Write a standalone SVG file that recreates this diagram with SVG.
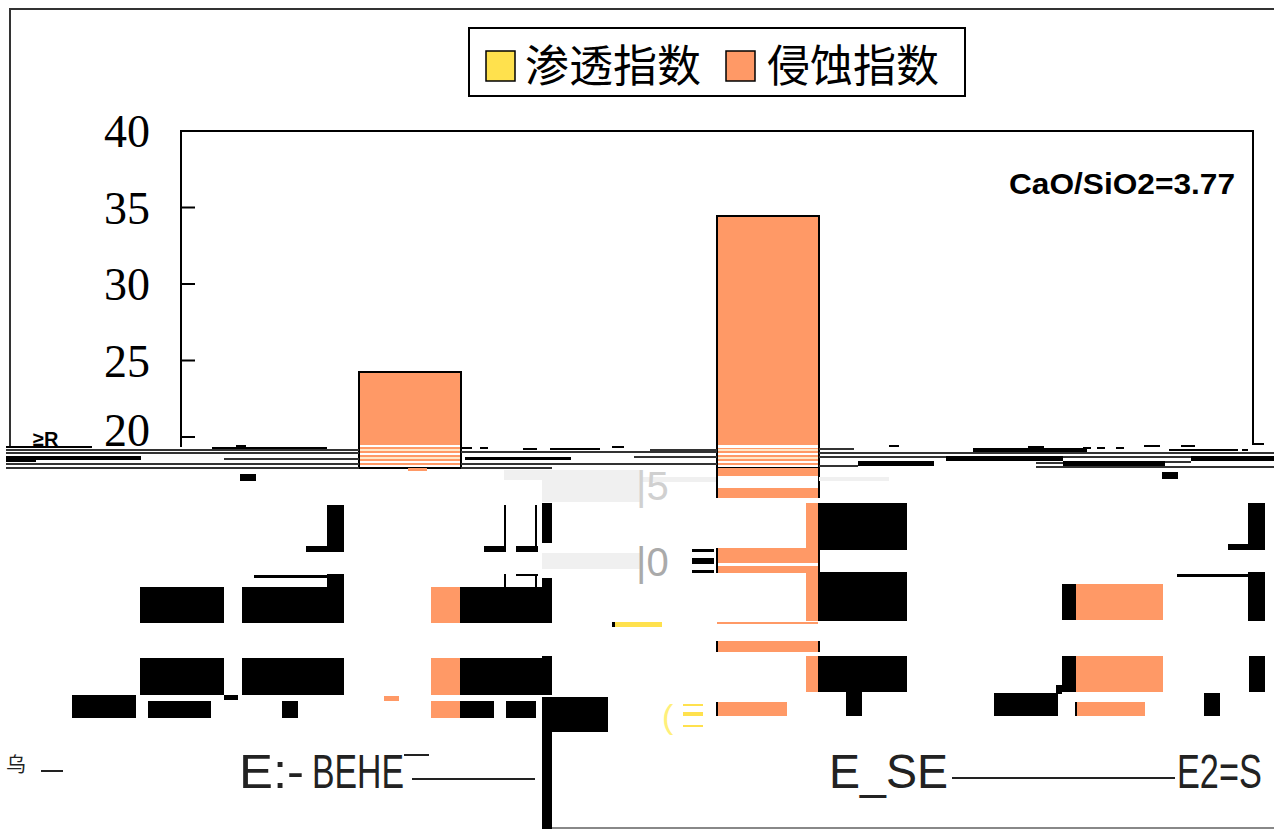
<svg xmlns="http://www.w3.org/2000/svg" width="1274" height="829" viewBox="0 0 1274 829">
<style>
.ln{stroke:#000;stroke-width:2;fill:none}
.gl{stroke:#333;stroke-width:2;fill:none}
.tk{font-family:"Liberation Serif",serif;font-size:46px;fill:#000}
.lg{font-family:"Noto Sans CJK SC","Noto Sans CJK JP",sans-serif;font-size:44px;fill:#000}
.an{font-family:"Liberation Sans",Arial,sans-serif;font-size:30px;font-weight:bold;fill:#000}
.gb{font-family:"Liberation Sans",Arial,sans-serif;font-size:49px;fill:#222}
.or{fill:#FF9966}
.ob{fill:#FF9966;stroke:#000;stroke-width:2}
.bk{fill:#000}
.gy{fill:#f0f0f0}
.wh{fill:#fff}
.pw{fill:#FFE8C8}
.ye{fill:#FFE14D}
</style>
<rect width="1274" height="829" fill="#fff"/>

<g id="frame">
<path class="gl" d="M10,447 V9 H1274"/>
</g>

<g id="legend">
<rect x="469" y="28" width="496" height="68" fill="#fff" stroke="#000" stroke-width="2"/>
<rect x="486" y="51" width="29" height="30" class="ye" stroke="#000" stroke-width="1.5"/>
<text class="lg" x="525" y="82" textLength="176" lengthAdjust="spacingAndGlyphs">渗透指数</text>
<rect x="726" y="51" width="29" height="30" class="or" stroke="#000" stroke-width="1.5"/>
<text class="lg" x="767" y="82" textLength="172" lengthAdjust="spacingAndGlyphs">侵蚀指数</text>
</g>

<g id="axis">
<path class="ln" d="M181,447 V131 H1253 V444 H1264"/>
<path class="ln" d="M181,207.5 H195 M181,284 H195 M181,360.5 H195 M181,437 H195"/>
<text class="tk" x="150" y="147" text-anchor="end">40</text>
<text class="tk" x="150" y="223.5" text-anchor="end">35</text>
<text class="tk" x="150" y="300" text-anchor="end">30</text>
<text class="tk" x="150" y="376.5" text-anchor="end">25</text>
<text class="tk" x="150" y="446" text-anchor="end">20</text>
<text x="33" y="446" font-family="Liberation Sans,sans-serif" font-size="20" font-weight="bold">≥R</text>
<text class="an" x="1009" y="194" textLength="226" lengthAdjust="spacingAndGlyphs">CaO/SiO2=3.77</text>
</g>

<g id="bar1">
<rect class="ob" x="359" y="372" width="102" height="96"/>
<rect class="wh" x="360" y="445" width="100" height="2"/>
<rect class="pw" x="360" y="449" width="100" height="2"/>
<rect class="wh" x="360" y="453" width="100" height="2"/>
<rect class="pw" x="360" y="457" width="100" height="2"/>
<rect class="wh" x="360" y="461" width="100" height="2"/>
<rect class="wh" x="360" y="465" width="100" height="2"/>
<rect class="or" x="408" y="468" width="19" height="3"/>
</g>

<g id="bar2">
<rect class="ob" x="717" y="216" width="102" height="252"/>
<rect class="wh" x="718" y="445" width="100" height="3"/>
<rect class="pw" x="718" y="449" width="100" height="2"/>
<rect class="wh" x="718" y="453" width="100" height="2"/>
<rect class="pw" x="718" y="457" width="100" height="2"/>
<rect class="wh" x="718" y="461" width="100" height="2"/>
<rect class="wh" x="718" y="465" width="100" height="2"/>
<rect class="or" x="717" y="468" width="102" height="8"/>
<rect class="or" x="717" y="488" width="102" height="10"/>
<rect class="or" x="717" y="548" width="102" height="15"/>
<rect class="or" x="717" y="566" width="102" height="7"/>
<rect class="or" x="717" y="622" width="101" height="2"/>
<rect class="or" x="717" y="641" width="103" height="11"/>
<rect class="or" x="717" y="702" width="70" height="14"/>
<path class="ln" d="M717,468 V498 M819,468 V498 M717,548 V573 M819,548 V573 M717,641 V652 M819,641 V652 M717,702 V716" stroke-width="1.5"/>
</g>

<g id="band">
<rect class="bk" x="6" y="446" width="86" height="2"/>
<rect class="bk" x="212" y="447" width="115" height="4"/>
<rect class="bk" x="236" y="445" width="10" height="2"/>
<path class="gl" d="M6,450 H359 M6,453 H359 M224,459 H359 M6,464 H359 M6,468 H359" stroke-width="1.5"/>
<rect class="bk" x="6" y="456" width="135" height="4"/>
<rect class="bk" x="6" y="456" width="30" height="6"/>
<rect class="bk" x="460" y="447" width="12" height="2"/>
<rect class="bk" x="480" y="447" width="8" height="2"/>
<rect class="bk" x="523" y="448" width="14" height="2"/>
<rect class="bk" x="550" y="448" width="50" height="2"/>
<rect class="bk" x="612" y="446" width="12" height="2"/>
<path class="gl" d="M461,452 H717 M461,464 H717 M461,468 H552 M650,450 H717 M634,457 H717" stroke-width="1.5"/>
<rect class="bk" x="465" y="457" width="106" height="3"/>
<rect class="bk" x="889" y="445" width="10" height="2"/>
<rect class="bk" x="973" y="448" width="114" height="4"/>
<rect class="bk" x="1028" y="446" width="16" height="3"/>
<rect class="bk" x="1083" y="447" width="8" height="2"/>
<rect class="bk" x="1097" y="447" width="8" height="2"/>
<rect class="bk" x="1116" y="447" width="8" height="2"/>
<rect class="bk" x="1144" y="445" width="16" height="2"/>
<rect class="bk" x="1181" y="445" width="14" height="2"/>
<rect class="bk" x="1169" y="449" width="69" height="2"/>
<rect class="bk" x="1242" y="449" width="6" height="2"/>
<path class="gl" d="M819,449 H854 M819,453 H1274 M819,457 H946 M1063,457 H1191 M1036,463 H1063 M1165,462 H1191 M1036,467 H1274 M819,466 H858" stroke-width="1.5"/>
<rect class="bk" x="946" y="456" width="117" height="5"/>
<rect class="bk" x="1191" y="456" width="83" height="5"/>
<rect class="bk" x="858" y="461" width="76" height="5"/>
<rect class="bk" x="1063" y="461" width="102" height="5"/>
</g>

<g id="left-blocks">
<rect class="bk" x="240" y="474" width="16" height="7"/>
<rect class="bk" x="327" y="505" width="17" height="47"/>
<rect class="bk" x="306" y="546" width="38" height="6"/>
<rect class="bk" x="140" y="587" width="84" height="36"/>
<rect class="bk" x="242" y="587" width="102" height="36"/>
<rect class="bk" x="327" y="574" width="17" height="13"/>
<rect class="bk" x="254" y="575" width="73" height="3"/>
<rect class="bk" x="140" y="658" width="84" height="37"/>
<rect class="bk" x="242" y="658" width="102" height="37"/>
<rect class="bk" x="224" y="695" width="14" height="5"/>
<rect class="bk" x="72" y="695" width="64" height="23"/>
<rect class="bk" x="148" y="701" width="63" height="17"/>
<rect class="bk" x="282" y="701" width="16" height="17"/>
</g>

<g id="middle-blocks">
<rect class="gy" x="504" y="470" width="136" height="10"/>
<rect class="gy" x="542" y="470" width="98" height="32"/>
<rect class="gy" x="634" y="477" width="82" height="5"/>
<rect class="gy" x="819" y="477" width="70" height="4"/>
<rect class="gy" x="542" y="553" width="98" height="16"/>
<rect class="bk" x="504" y="505" width="2" height="47"/>
<rect class="bk" x="484" y="546" width="22" height="6"/>
<rect class="bk" x="535" y="505" width="2" height="47"/>
<rect class="bk" x="516" y="546" width="22" height="6"/>
<rect class="bk" x="542" y="503" width="10" height="40"/>
<rect class="bk" x="504" y="574" width="2" height="13"/>
<rect class="bk" x="516" y="574" width="22" height="2"/>
<rect class="bk" x="535" y="574" width="2" height="13"/>
<rect class="or" x="431" y="587" width="29" height="36"/>
<rect class="bk" x="460" y="587" width="92" height="36"/>
<rect class="bk" x="542" y="578" width="10" height="9"/>
<rect class="or" x="431" y="658" width="29" height="37"/>
<rect class="bk" x="460" y="658" width="92" height="37"/>
<rect class="bk" x="542" y="656" width="10" height="2"/>
<rect class="or" x="384" y="696" width="15" height="5"/>
<rect class="or" x="431" y="701" width="29" height="17"/>
<rect class="bk" x="460" y="701" width="34" height="17"/>
<rect class="bk" x="506" y="701" width="30" height="17"/>
<rect class="bk" x="547" y="697" width="61" height="35"/>
<rect class="bk" x="542" y="697" width="10" height="132"/>
<rect x="552" y="827" width="722" height="2" fill="#888"/>
<rect class="ye" x="612" y="622" width="50" height="5"/>
<rect class="bk" x="612" y="622" width="3" height="5"/>
<text x="636" y="500" font-family="Liberation Sans,sans-serif" font-size="40" fill="#d0d0d0">|5</text>
<text x="636" y="576" font-family="Liberation Sans,sans-serif" font-size="40" fill="#aaa">|0</text>
<rect class="bk" x="692" y="549" width="22" height="3"/>
<rect class="bk" x="692" y="558" width="22" height="6"/>
<rect class="bk" x="692" y="570" width="22" height="3"/>
<text x="662" y="728" font-family="Liberation Sans,sans-serif" font-size="34" fill="#FFF07A">(</text>
<rect class="ye" x="683" y="704" width="20" height="2"/>
<rect class="ye" x="683" y="712" width="20" height="4"/>
<rect class="ye" x="683" y="725" width="20" height="2"/>
</g>

<g id="bar2-blocks">
<rect class="or" x="806" y="503" width="12" height="47"/>
<rect class="bk" x="818" y="503" width="89" height="47"/>
<rect class="or" x="806" y="572" width="12" height="49"/>
<rect class="bk" x="818" y="572" width="89" height="49"/>
<rect class="or" x="806" y="656" width="12" height="36"/>
<rect class="bk" x="818" y="656" width="89" height="36"/>
<rect class="bk" x="846" y="692" width="16" height="24"/>
</g>

<g id="right-blocks">
<rect class="bk" x="1162" y="472" width="16" height="7"/>
<rect class="bk" x="1248" y="503" width="17" height="47"/>
<rect class="bk" x="1228" y="544" width="37" height="6"/>
<rect class="bk" x="1177" y="574" width="71" height="3"/>
<rect class="bk" x="1248" y="572" width="17" height="49"/>
<rect class="bk" x="1062" y="584" width="14" height="36"/>
<rect class="or" x="1076" y="584" width="87" height="36"/>
<rect class="bk" x="1062" y="656" width="14" height="36"/>
<rect class="or" x="1076" y="656" width="87" height="36"/>
<rect class="bk" x="1249" y="656" width="16" height="36"/>
<rect class="bk" x="994" y="693" width="64" height="23"/>
<rect class="bk" x="1056" y="685" width="6" height="9"/>
<rect class="or" x="1076" y="702" width="69" height="14"/>
<rect class="bk" x="1075" y="702" width="2" height="14"/>
<rect class="bk" x="1204" y="693" width="16" height="23"/>
</g>

<g id="bottom-labels">
<text x="6" y="772" font-family="Noto Sans CJK SC,sans-serif" font-size="20" fill="#222">乌</text>
<rect x="41" y="770" width="22" height="2" fill="#222"/>
<text class="gb" x="239" y="788" textLength="65" lengthAdjust="spacingAndGlyphs">E:-</text>
<text class="gb" x="312" y="788" textLength="92" lengthAdjust="spacingAndGlyphs">BEHE</text>
<rect x="404" y="754" width="25" height="2" fill="#222"/>
<rect x="412" y="778" width="123" height="2" fill="#222"/>
<text class="gb" x="829" y="788" textLength="119" lengthAdjust="spacingAndGlyphs">E_SE</text>
<rect x="952" y="777" width="223" height="2" fill="#222"/>
<text class="gb" transform="translate(1177,788) scale(0.7,1)" x="0" y="0">E2=S</text>
</g>
</svg>
